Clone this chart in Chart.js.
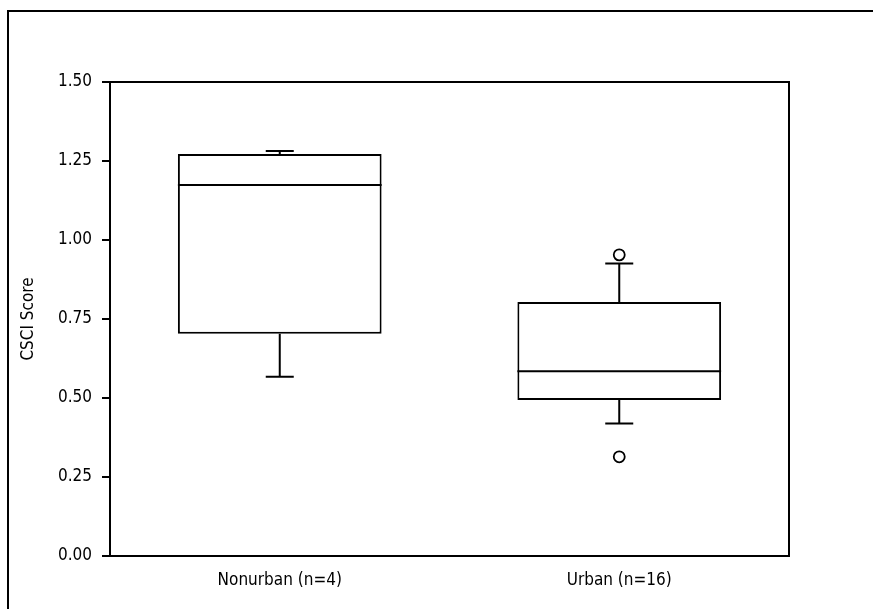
<!DOCTYPE html>
<html>
<head>
<meta charset="utf-8">
<title>CSCI Score</title>
<script src="https://cdn.jsdelivr.net/npm/chart.js@4/dist/chart.umd.min.js"></script>
<style>
  html, body { margin: 0; padding: 0; background: #fff; }
  #wrap { position: relative; width: 873px; height: 609px; overflow: hidden; }
  #marco { position: absolute; left: 7px; top: 10px; width: 900px; height: 640px;
           border-top: 2px solid #000; border-left: 2px solid #000; }
  #grafico { position: absolute; left: 0; top: 0; }
</style>
</head>
<body>
<div id="wrap">
  <div id="marco"></div>
  <canvas id="grafico" width="873" height="609"></canvas>
</div>
<script>
// --- Datos ---
const categorias = ['Nonurban (n=4)', 'Urban (n=16)'];
const bigoteMin = [0.567, 0.419];
const cuartil1 = [0.703, 0.494];
const mediana = [1.174, 0.585];
const cuartil3 = [1.272, 0.804];
const bigoteMax = [1.282, 0.926];
const atipicosCat = ['Urban (n=16)', 'Urban (n=16)'];
const atipicosVal = [0.953, 0.314];
const ticksY = [0, 0.25, 0.5, 0.75, 1, 1.25, 1.5];

const fuente = "'DejaVu Sans Condensed', 'Liberation Sans Narrow', sans-serif";

// Plugin: mediana, bigotes y marco del área del gráfico
const cajaPlugin = {
  id: 'cajaPlugin',
  afterDatasetsDraw(chart) {
    const ctx = chart.ctx;
    const x = chart.scales.x;
    const y = chart.scales.y;
    const meta = chart.getDatasetMeta(0);
    ctx.save();
    ctx.strokeStyle = '#000';
    ctx.lineWidth = 2;
    meta.data.forEach((bar, i) => {
      const cx = x.getPixelForValue(i);
      const half = bar.width / 2;
      const cap = 14;
      ctx.beginPath();
      // mediana
      ctx.moveTo(cx - half, y.getPixelForValue(mediana[i]));
      ctx.lineTo(cx + half, y.getPixelForValue(mediana[i]));
      // bigote superior
      ctx.moveTo(cx, y.getPixelForValue(cuartil3[i]));
      ctx.lineTo(cx, y.getPixelForValue(bigoteMax[i]));
      ctx.moveTo(cx - cap, y.getPixelForValue(bigoteMax[i]));
      ctx.lineTo(cx + cap, y.getPixelForValue(bigoteMax[i]));
      // bigote inferior
      ctx.moveTo(cx, y.getPixelForValue(cuartil1[i]));
      ctx.lineTo(cx, y.getPixelForValue(bigoteMin[i]));
      ctx.moveTo(cx - cap, y.getPixelForValue(bigoteMin[i]));
      ctx.lineTo(cx + cap, y.getPixelForValue(bigoteMin[i]));
      ctx.stroke();
    });
    // marco superior y derecho del área
    const a = chart.chartArea;
    ctx.beginPath();
    ctx.moveTo(a.left, a.top);
    ctx.lineTo(a.right, a.top);
    ctx.lineTo(a.right, a.bottom);
    ctx.stroke();
    ctx.restore();
  }
};

new Chart(document.getElementById('grafico').getContext('2d'), {
  type: 'bar',
  data: {
    labels: categorias,
    datasets: [{
      // cajas flotantes de Q1 a Q3
      data: cuartil1.map((q, i) => [q, cuartil3[i]]),
      backgroundColor: '#fff',
      borderColor: '#000',
      borderWidth: 2,
      borderSkipped: false,
      categoryPercentage: 1,
      barPercentage: 0.6,
      order: 2
    }, {
      // valores atípicos
      type: 'scatter',
      data: atipicosCat.map((c, i) => ({ x: c, y: atipicosVal[i] })),
      pointRadius: 5.5,
      pointBorderWidth: 1.8,
      pointBorderColor: '#000',
      pointBackgroundColor: '#fff',
      order: 1
    }]
  },
  options: {
    responsive: false,
    animation: false,
    layout: { padding: { top: 82, right: 84, left: 0, bottom: 0 } },
    plugins: { legend: { display: false }, tooltip: { enabled: false } },
    scales: {
      x: {
        type: 'category',
        offset: true,
        grid: { display: false, drawTicks: false },
        border: { display: true, color: '#000', width: 2 },
        ticks: { color: '#000', padding: 14, font: { family: fuente, size: 17 } },
        afterFit: s => { s.height = 53; }
      },
      y: {
        min: 0,
        max: 1.5,
        afterBuildTicks: s => { s.ticks = ticksY.map(v => ({ value: v })); },
        grid: { drawOnChartArea: false, drawTicks: true, tickLength: 8, color: '#000', lineWidth: 2 },
        border: { display: true, color: '#000', width: 2 },
        ticks: { color: '#000', padding: 10, font: { family: fuente, size: 17 },
                 callback: v => Number(v).toFixed(2) },
        title: { display: true, text: 'CSCI Score', color: '#000',
                 padding: { top: 18, bottom: 0 }, font: { family: fuente, size: 17 } },
        afterFit: s => { s.width = 110; }
      }
    }
  },
  plugins: [cajaPlugin]
});
</script>
</body>
</html>
